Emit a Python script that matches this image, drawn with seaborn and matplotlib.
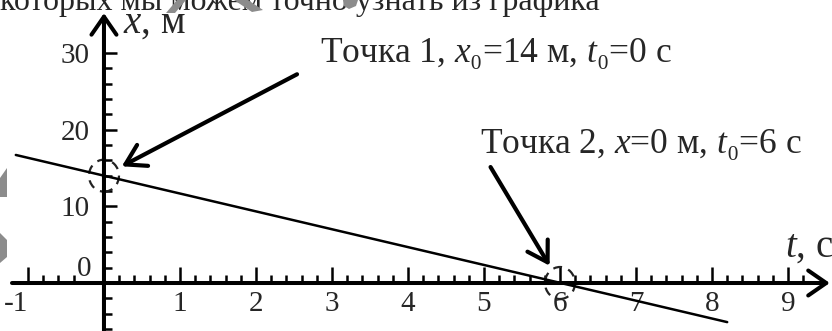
import numpy as np
import matplotlib
matplotlib.use("Agg")
import matplotlib.pyplot as plt
from matplotlib.patches import Ellipse, Polygon
import seaborn as sns

# Coordinate of the body vs time: straight line x = x0 + v*t
t_line = [-1.16, 8.2]
x_line = [16.7, -5.1]

# Marked points and their captions
t_points = [0, 6]
x_points = [14, 0]
point_labels = [r"Точка 1, $x$₀=14 м, $t$₀=0 с", r"Точка 2, $x$=0 м, $t$₀=6 с"]

# Axis ticks
t_major = [-1, 1, 2, 3, 4, 5, 6, 7, 8, 9]
t_major_labels = ["-1", "1", "2", "3", "4", "5", "6", "7", "8", "9"]
x_major = [10, 20, 30]
x_major_labels = ["10", "20", "30"]
x_minor = [-6, -4, -2, 2, 4, 6, 8, 12, 14, 16, 18, 22, 24, 26, 28]

sns.set_style("white")
plt.rcParams["font.family"] = ["Liberation Serif", "DejaVu Serif"]
plt.rcParams["mathtext.fontset"] = "custom"
plt.rcParams["mathtext.rm"] = "Liberation Serif"
plt.rcParams["mathtext.it"] = "Liberation Serif:italic"
plt.rcParams["mathtext.bf"] = "Liberation Serif:bold"

W, H = 832, 331
fig = plt.figure(figsize=(W / 100, H / 100), dpi=100)
fig.patch.set_facecolor("white")
ax = fig.add_axes([0, 0, 1, 1])
ax.set_facecolor("white")
ax.set_xlim(-1.368, 9.579)
ax.set_ylim(-6.26, 36.91)

# axes cross at the origin; the spines themselves are replaced by arrows
for side in ["left", "bottom"]:
    ax.spines[side].set_position(("data", 0))
for side in ["left", "right", "top", "bottom"]:
    ax.spines[side].set_visible(False)

t_minor = [v for v in np.round(np.arange(-1.0, 9.21, 0.2), 1)
           if abs(v - round(v)) > 1e-6 and v != -0.2]

ax.set_xticks(t_major)
ax.set_xticklabels(t_major_labels)
ax.set_xticks(t_minor, minor=True)
ax.set_yticks(x_major)
ax.set_yticklabels(x_major_labels)
ax.set_yticks(x_minor, minor=True)

ax.tick_params(axis="x", which="both", bottom=True, top=False)
ax.tick_params(axis="y", which="both", left=True, right=False)
ax.tick_params(axis="x", which="major", direction="in", length=11.5, width=1.8,
               pad=6, labelsize=21, color="black")
ax.tick_params(axis="x", which="minor", direction="in", length=5.8, width=1.8,
               color="black")
ax.tick_params(axis="y", which="major", direction="in", length=9.4, width=1.8,
               pad=10.5, labelsize=21, color="black")
ax.tick_params(axis="y", which="minor", direction="in", length=5.8, width=1.8,
               color="black")
ax.get_xticklabels()[0].set_horizontalalignment("right")

# zero of the x scale, written above the t axis
ax.annotate("0", xy=(0, 0), xytext=(-9, 1), textcoords="offset points",
            ha="right", va="bottom", fontsize=21)

# axes as arrows
axis_arrow = dict(arrowstyle="->,head_length=1.3,head_width=0.9", lw=2.9,
                  color="black", shrinkA=0, shrinkB=0, mutation_scale=10)
ax.annotate("", xy=(9.55, 0), xytext=(-1.21, 0), arrowprops=axis_arrow)
ax.annotate("", xy=(0, 35.2), xytext=(0, -6.3), arrowprops=axis_arrow)

ax.text(0.25, 32.7, r"$x$, м", fontsize=28, ha="left", va="baseline")
ax.text(8.96, 3.39, r"$t$, с", fontsize=28, ha="left", va="baseline")

# the graph itself
sns.lineplot(x=t_line, y=x_line, ax=ax, color="black", linewidth=1.8,
             legend=False)

# dashed circles round the marked points
for tp, xp in zip(t_points, x_points):
    ax.add_patch(Ellipse((tp, xp), width=30 / 76, height=32 / 7.667,
                         fill=False, ls=(0, (4, 3)), lw=1.6,
                         edgecolor="#222222"))

# pointers and captions
pointer = dict(arrowstyle="->,head_length=1.4,head_width=0.85", lw=3.0,
               color="black", shrinkA=0, shrinkB=14.5, mutation_scale=10)
pointer_offsets = [(139, 73), (-50, 83.5)]
caption_pos = [(2.84, 28.83), (4.95, 16.96)]
for tp, xp, off, lab, pos in zip(t_points, x_points, pointer_offsets,
                                 point_labels, caption_pos):
    ax.annotate("", xy=(tp, xp), xytext=off, textcoords="offset points",
                arrowprops=pointer)
    ax.text(pos[0], pos[1], lab, fontsize=25.5, ha="left", va="baseline")

# line of the surrounding text, cut by the top edge
fig.text(600 / W, 1 - 10 / H, "которых мы можем точно узнать из графика",
         fontsize=23, ha="right", va="baseline")

# grey shapes of the page overlay
grey_shapes = [
    [(166, 13), (175, 13), (186, 0), (177, 0)],
    [(234, 0), (248, 0), (263, 10), (252, 12)],
    [(343, 0), (358, 0), (356, 6), (349, 9), (344, 6)],
    [(0, 178), (7, 168), (7, 197), (0, 197)],
    [(0, 233), (7, 240), (7, 257), (0, 263)],
]
for pts in grey_shapes:
    arr = np.array([(px / W, 1 - py / H) for px, py in pts])
    fig.add_artist(Polygon(arr, closed=True, transform=fig.transFigure,
                           facecolor="#8c8c8c", edgecolor="none", zorder=5))

fig.savefig("out.png", dpi=100, facecolor="white")
